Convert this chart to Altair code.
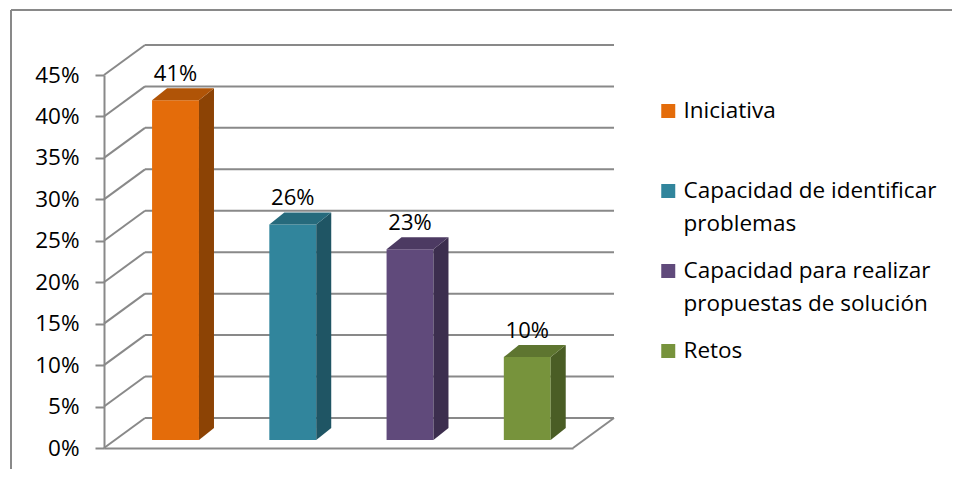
import altair as alt
import pandas as pd

# ---------------- data ----------------
categories = ["Iniciativa", "Capacidad de identificar problemas",
              "Capacidad para realizar propuestas de solución", "Retos"]
values = [41, 26, 23, 10]
legend_lines = [["Iniciativa", ""],
                ["Capacidad de identificar", "problemas"],
                ["Capacidad para realizar", "propuestas de solución"],
                ["Retos", ""]]
tick_values = [0, 5, 10, 15, 20, 25, 30, 35, 40, 45]

# ---------------- styles ----------------
front_colors = ["#E46C0A", "#31859C", "#604A7B", "#77933C"]
side_colors = ["#8C4305", "#1F5564", "#3C2E4E", "#4A5D25"]
top_colors = ["#B05407", "#266A7C", "#4C3A62", "#5E7530"]
GRID = "#898989"
FONT = "Open Sans"
FS = 22.5

# oblique 3D projection, expressed in data units of the two scales
DEPTH_X = 0.3497   # full depth, x units
DEPTH_Y = 3.621    # full depth, percentage points
BAR_HALF = 0.2
BAR_SHIFT_X = 0.11
BAR_BASE = 0.967
BAR_DX = 0.128
BAR_DY = 1.449

bars = pd.DataFrame({"cat": categories, "v": values, "pos": [1, 2, 3, 4]})
bars["xc"] = bars["pos"] + BAR_SHIFT_X
bars["x0"] = bars["xc"] - BAR_HALF
bars["x1"] = bars["xc"] + BAR_HALF
bars["y0"] = BAR_BASE
bars["y1"] = bars["v"] + BAR_BASE
bars["label"] = bars["v"].astype(str) + "%"

side_rows, top_rows = [], []
for i, r in bars.iterrows():
    c = r["cat"]
    side_rows += [
        dict(cat=c, x=r["x1"], lo=r["y0"], hi=r["y1"], c=side_colors[i]),
        dict(cat=c, x=r["x1"] + BAR_DX, lo=r["y0"] + BAR_DY, hi=r["y1"] + BAR_DY, c=side_colors[i]),
    ]
    top_rows += [
        dict(cat=c, x=r["x0"], lo=r["y1"], hi=r["y1"], c=top_colors[i]),
        dict(cat=c, x=r["x0"] + BAR_DX, lo=r["y1"], hi=r["y1"] + BAR_DY, c=top_colors[i]),
        dict(cat=c, x=r["x1"], lo=r["y1"], hi=r["y1"] + BAR_DY, c=top_colors[i]),
        dict(cat=c, x=r["x1"] + BAR_DX, lo=r["y1"] + BAR_DY, hi=r["y1"] + BAR_DY, c=top_colors[i]),
    ]
side = pd.DataFrame(side_rows)
top = pd.DataFrame(top_rows)

grid = pd.DataFrame({"t": tick_values})
grid["tb"] = grid["t"] + DEPTH_Y
grid["xf"] = 0.5
grid["xb"] = 0.5 + DEPTH_X
grid["xr"] = 4.5 + DEPTH_X

floor = pd.DataFrame({"x": [4.5], "x2": [4.5 + DEPTH_X], "y": [0.0], "y2": [DEPTH_Y]})

# ---------------- scales / axes ----------------
xscale = alt.Scale(domain=[0.5, 4.5], nice=False, zero=False)
yscale = alt.Scale(domain=[0, 45], nice=False, zero=True)
xaxis = alt.Axis(title=None, labels=False, ticks=False, grid=False,
                 domainColor=GRID, domainWidth=2)
yaxis = alt.Axis(title=None, values=tick_values, labelExpr="datum.value + '%'",
                 grid=False, domainColor=GRID, domainWidth=2, tickColor=GRID,
                 tickWidth=2, tickSize=9, labelPadding=16, labelFont=FONT,
                 labelFontSize=FS, labelColor="black")


def X(f):
    return alt.X(f, type="quantitative", scale=xscale, axis=xaxis)


def Y(f):
    return alt.Y(f, type="quantitative", scale=yscale, axis=yaxis, stack=None)


label_expr = " : ".join(
    f"datum.label == '{c}' ? {lines!r}" for c, lines in zip(categories, legend_lines)
) + " : datum.label"

border = alt.Chart(pd.DataFrame({"a": [0]}))
border_top = border.mark_rule(color=GRID, strokeWidth=2).encode(
    x=alt.value(-93), x2=alt.value(900), y=alt.value(-65))
border_left = border.mark_rule(color=GRID, strokeWidth=2).encode(
    x=alt.value(-93), y=alt.value(-65), y2=alt.value(420))

diag = alt.Chart(grid).mark_rule(color=GRID, strokeWidth=2).encode(
    x=X("xf"), x2="xb:Q", y=Y("t"), y2="tb:Q")
back = alt.Chart(grid).mark_rule(color=GRID, strokeWidth=2).encode(
    x=X("xb"), x2="xr:Q", y=Y("tb"))
floor_diag = alt.Chart(floor).mark_rule(color=GRID, strokeWidth=2).encode(
    x=X("x"), x2="x2:Q", y=Y("y"), y2="y2:Q")

front = alt.Chart(bars).mark_rect().encode(
    x=X("x0"), x2="x1:Q", y=Y("y0"), y2="y1:Q",
    color=alt.Color("cat:N", scale=alt.Scale(domain=categories, range=front_colors),
                    sort=categories,
                    legend=alt.Legend(orient="none", legendX=553, legendY=16,
                                      title=None, symbolType="square", symbolSize=196,
                                      symbolStrokeWidth=0, labelFont=FONT,
                                      labelFontSize=FS, labelColor="black",
                                      labelOffset=4, labelLimit=400, clipHeight=40,
                                      rowPadding=15, padding=0, labelExpr=label_expr)))
side_face = alt.Chart(side).mark_area().encode(
    x=X("x"), y=Y("lo"), y2="hi:Q", detail="cat:N",
    fill=alt.Fill("c:N", scale=None, legend=None))
top_face = alt.Chart(top).mark_area().encode(
    x=X("x"), y=Y("lo"), y2="hi:Q", detail="cat:N",
    fill=alt.Fill("c:N", scale=None, legend=None))
labels = alt.Chart(bars).mark_text(font=FONT, fontSize=22, color="black",
                                   baseline="alphabetic", dy=-19).encode(
    x=X("xc"), y=Y("y1"), text="label:N")

chart = alt.layer(border_top, border_left, diag, back, floor_diag,
                  front, side_face, top_face, labels).properties(
    width=469, height=373, autosize="none",
    padding={"left": 96, "top": 67, "right": 379, "bottom": 21},
).configure(
    style={"guide-label": {"lineHeight": 33}},
    view=alt.ViewConfig(stroke=None),
)

chart.save("out.html", embed_options={"renderer": "svg", "actions": False})
